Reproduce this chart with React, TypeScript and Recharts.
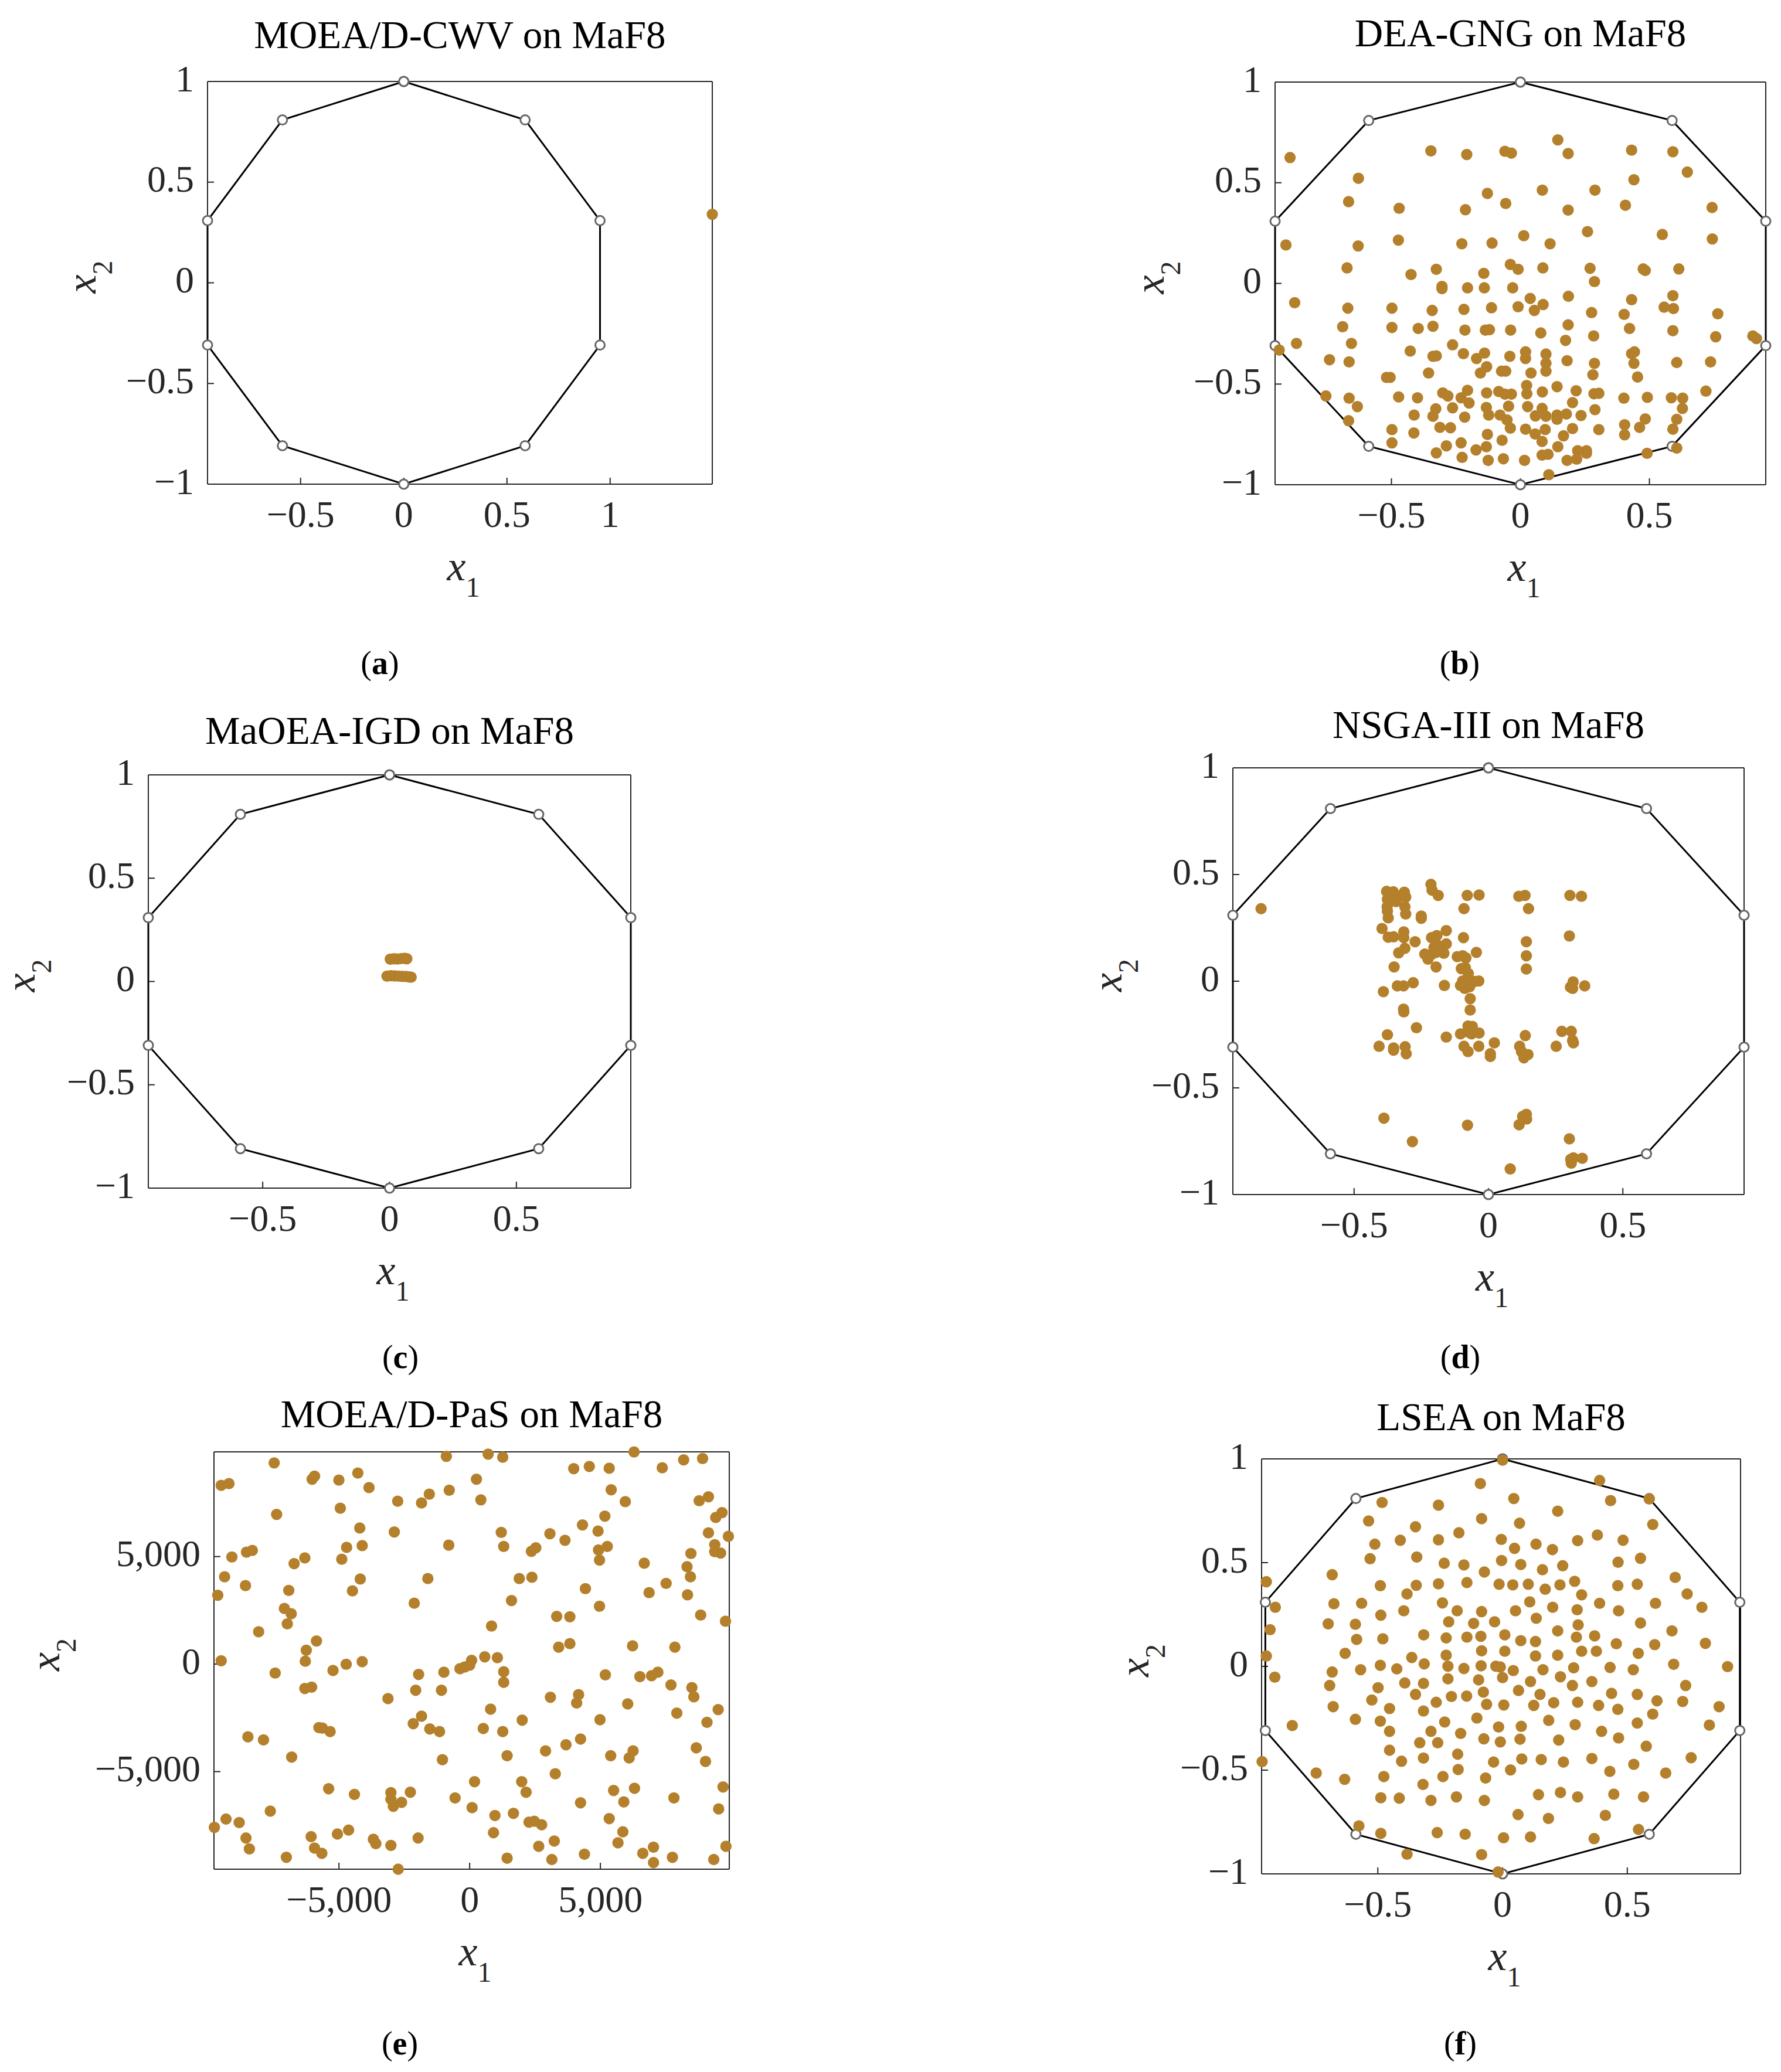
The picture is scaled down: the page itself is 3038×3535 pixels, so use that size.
import { ScatterChart, Scatter, XAxis, YAxis } from 'recharts'

// decagon outline, closed by repeating the first vertex
const POLYGON: number[][] = [
  [0, 1], [0.588, 0.809], [0.951, 0.309], [0.951, -0.309], [0.588, -0.809], [0, -1],
  [-0.588, -0.809], [-0.951, -0.309], [-0.951, 0.309], [-0.588, 0.809], [0, 1],
]

const CWV_POINTS: number[][] = [[1.495, 0.34]]

const GNG_POINTS: number[][] = [
  [-0.893, 0.625], [-0.347, 0.658], [-0.208, 0.64], [-0.06, 0.656], [-0.035, 0.647], [0.145, 0.713], [0.185, 0.645],
  [0.431, 0.662], [0.591, 0.654], [0.647, 0.553], [0.44, 0.515], [-0.628, 0.522], [-0.666, 0.406], [-0.47, 0.373],
  [-0.213, 0.366], [-0.128, 0.447], [-0.057, 0.397], [0.085, 0.463], [0.289, 0.463], [0.185, 0.364], [0.407, 0.388],
  [0.743, 0.377], [0.26, 0.257], [0.55, 0.243], [0.744, 0.221], [-0.909, 0.191], [-0.629, 0.186], [-0.473, 0.215],
  [-0.227, 0.197], [-0.11, 0.2], [0.013, 0.237], [0.115, 0.197], [-0.672, 0.077], [-0.424, 0.044], [-0.326, 0.07],
  [-0.142, 0.05], [-0.039, 0.094], [-0.009, 0.07], [0.087, 0.077], [0.27, 0.075], [0.287, 0.009], [0.476, 0.072],
  [0.484, 0.064], [0.614, 0.072], [-0.304, -0.015], [-0.304, -0.026], [-0.205, -0.022], [-0.14, -0.022], [-0.03, -0.022],
  [0.186, -0.064], [0.038, -0.075], [0.591, -0.061], [-0.875, -0.096], [0.431, -0.081], [-0.669, -0.123], [-0.498, -0.123],
  [-0.342, -0.134], [-0.219, -0.129], [-0.112, -0.121], [-0.009, -0.116], [0.088, -0.105], [0.054, -0.134], [0.276, -0.145],
  [0.402, -0.154], [0.557, -0.118], [0.593, -0.125], [0.765, -0.151], [-0.689, -0.215], [-0.498, -0.219], [-0.396, -0.224],
  [-0.339, -0.213], [-0.215, -0.232], [-0.136, -0.232], [-0.12, -0.23], [-0.038, -0.232], [0.079, -0.246], [0.185, -0.206],
  [0.284, -0.261], [0.423, -0.224], [0.591, -0.235], [0.757, -0.265], [0.901, -0.261], [0.915, -0.274], [-0.868, -0.298],
  [-0.655, -0.298], [-0.935, -0.331], [-0.263, -0.305], [0.175, -0.283], [-0.427, -0.336], [-0.339, -0.362], [-0.326, -0.36],
  [-0.221, -0.349], [-0.17, -0.373], [-0.139, -0.346], [-0.041, -0.362], [0.02, -0.34], [0.02, -0.373], [0.099, -0.351],
  [0.181, -0.384], [0.431, -0.349], [0.442, -0.34], [-0.74, -0.379], [-0.664, -0.39], [-0.131, -0.414], [-0.155, -0.445],
  [0.099, -0.397], [0.099, -0.436], [0.287, -0.397], [0.44, -0.397], [0.737, -0.39], [-0.356, -0.445], [-0.073, -0.436],
  [-0.057, -0.436], [0.041, -0.445], [0.281, -0.454], [0.454, -0.465], [0.606, -0.393], [-0.519, -0.467], [-0.505, -0.467],
  [0.024, -0.507], [0.142, -0.513], [0.719, -0.535], [-0.754, -0.559], [-0.472, -0.564], [-0.399, -0.568], [-0.301, -0.544],
  [-0.281, -0.559], [-0.23, -0.568], [-0.205, -0.531], [-0.131, -0.544], [-0.084, -0.537], [-0.06, -0.55], [-0.035, -0.55],
  [0.025, -0.548], [0.085, -0.539], [0.216, -0.533], [0.285, -0.548], [0.304, -0.546], [0.401, -0.57], [0.492, -0.566],
  [0.585, -0.568], [0.629, -0.57], [-0.664, -0.57], [-0.632, -0.612], [-0.328, -0.623], [-0.263, -0.618], [-0.199, -0.594],
  [-0.132, -0.616], [-0.046, -0.61], [0.028, -0.612], [0.084, -0.621], [0.202, -0.592], [0.289, -0.627], [0.628, -0.621],
  [-0.412, -0.654], [-0.339, -0.66], [-0.216, -0.664], [-0.123, -0.654], [-0.079, -0.654], [-0.052, -0.678], [0.058, -0.658],
  [0.099, -0.66], [0.142, -0.654], [0.142, -0.675], [0.178, -0.649], [0.235, -0.656], [0.484, -0.673], [0.606, -0.675],
  [-0.666, -0.682], [0.404, -0.702], [-0.498, -0.726], [-0.312, -0.715], [-0.271, -0.717], [-0.039, -0.719], [0.02, -0.724],
  [0.096, -0.726], [0.202, -0.721], [0.304, -0.726], [0.462, -0.715], [0.591, -0.724], [-0.413, -0.743], [-0.128, -0.75],
  [0.057, -0.748], [0.167, -0.757], [0.404, -0.752], [-0.498, -0.792], [-0.23, -0.792], [-0.071, -0.779], [0.084, -0.785],
  [-0.287, -0.807], [-0.132, -0.811], [0.145, -0.811], [0.606, -0.818], [-0.172, -0.827], [-0.326, -0.842], [-0.226, -0.864],
  [-0.125, -0.879], [-0.066, -0.871], [0.016, -0.879], [0.084, -0.853], [0.107, -0.849], [0.181, -0.879], [0.218, -0.873],
  [0.222, -0.831], [0.256, -0.831], [0.256, -0.844], [0.491, -0.844], [0.11, -0.95],
]

const IGD_POINTS: number[][] = [
  [0.003, 0.108], [0.018, 0.11], [0.032, 0.109], [0.047, 0.111], [0.06, 0.112], [0.068, 0.11],
  [-0.01, 0.026], [0.005, 0.028], [0.02, 0.027], [0.035, 0.026], [0.05, 0.025], [0.065, 0.024], [0.078, 0.022], [0.085, 0.021],
]

const NSGA_POINTS: number[][] = [
  [-0.846, 0.34], [-0.379, 0.421], [-0.354, 0.419], [-0.313, 0.417], [-0.338, 0.394], [-0.308, 0.394], [-0.376, 0.384],
  [-0.377, 0.349], [-0.344, 0.373], [-0.311, 0.349], [-0.376, 0.328], [-0.308, 0.315], [-0.373, 0.297], [-0.25, 0.305],
  [-0.25, 0.295], [-0.214, 0.454], [-0.21, 0.427], [-0.187, 0.402], [-0.079, 0.402], [-0.035, 0.404], [0.113, 0.398],
  [0.136, 0.402], [0.303, 0.402], [0.346, 0.398], [-0.091, 0.34], [0.149, 0.34], [-0.396, 0.247], [-0.373, 0.206],
  [-0.353, 0.208], [-0.315, 0.231], [-0.315, 0.204], [-0.273, 0.185], [-0.157, 0.237], [-0.212, 0.204], [-0.192, 0.214],
  [-0.093, 0.204], [0.301, 0.212], [0.141, 0.185], [-0.157, 0.175], [-0.311, 0.154], [-0.334, 0.133], [-0.045, 0.135],
  [-0.237, 0.127], [-0.225, 0.103], [-0.203, 0.157], [-0.195, 0.135], [-0.187, 0.167], [-0.166, 0.131], [-0.212, 0.125],
  [-0.179, 0.146], [-0.116, 0.115], [-0.096, 0.119], [-0.084, 0.109], [0.141, 0.119], [-0.195, 0.067], [-0.351, 0.067],
  [-0.101, 0.059], [-0.086, 0.063], [0.141, 0.057], [-0.075, 0.036], [-0.036, 0.001], [-0.05, -0.001], [0.315, -0.003],
  [-0.339, -0.022], [-0.316, -0.022], [-0.28, -0.007], [-0.164, -0.02], [-0.104, -0.02], [-0.088, -0.009], [-0.071, -0.003],
  [-0.088, -0.034], [-0.07, -0.026], [-0.096, 0.001], [0.305, -0.028], [0.313, -0.034], [0.358, -0.022], [-0.391, -0.049],
  [-0.068, -0.082], [-0.316, -0.131], [-0.315, -0.144], [-0.068, -0.135], [-0.268, -0.218], [-0.076, -0.21], [-0.06, -0.212],
  [-0.104, -0.247], [-0.079, -0.237], [-0.063, -0.247], [-0.035, -0.243], [-0.376, -0.251], [-0.157, -0.262], [0.137, -0.255],
  [0.273, -0.235], [0.308, -0.235], [0.313, -0.278], [0.316, -0.289], [0.022, -0.289], [-0.407, -0.305], [-0.353, -0.313],
  [-0.353, -0.323], [-0.31, -0.307], [-0.306, -0.34], [-0.091, -0.305], [-0.076, -0.33], [-0.036, -0.305], [0.007, -0.34],
  [0.007, -0.353], [0.116, -0.305], [0.123, -0.33], [0.132, -0.359], [0.147, -0.344], [0.252, -0.305], [-0.389, -0.642],
  [-0.078, -0.675], [0.141, -0.624], [0.127, -0.634], [0.142, -0.646], [0.114, -0.673], [-0.283, -0.752], [0.301, -0.739],
  [0.306, -0.835], [0.316, -0.828], [0.349, -0.83], [0.308, -0.853], [0.081, -0.88],
]

const PAS_POINTS: number[][] = [
  [-7477, 9356], [-9505, 8313], [-9207, 8395], [-6026, 8599], [-5933, 8742], [-5003, 8558], [-4278, 8885], [-3850, 8211],
  [-2753, 7577], [-1841, 7495], [-1544, 7904], [-893, 9663], [-781, 8088], [260, 8599], [428, 7638], [707, 9765], [1265, 9622],
  [3980, 9090], [4576, 9192], [5338, 9110], [6287, 9867], [7366, 9131], [8184, 9499], [8909, 9560], [5413, 8108], [5952, 7556],
  [8779, 7597], [9133, 7781], [9653, 7045], [9412, 6820], [5171, 6881], [-7384, 6963], [-4948, 7250], [-4204, 6329], [4315, 6472],
  [1209, 6125], [3069, 6063], [4910, 6186], [9133, 6104], [9895, 5941], [-2883, 6145], [-4706, 5429], [-4111, 5511], [-800, 5532],
  [1302, 5470], [3646, 5757], [2530, 5409], [2362, 5245], [4929, 5307], [5264, 5470], [9374, 5552], [9374, 5225], [9598, 5164],
  [8463, 5143], [-9095, 4980], [-8537, 5205], [-8314, 5286], [-6305, 4939], [-6715, 4673], [-4892, 4877], [4966, 4836], [6677, 4693],
  [8314, 4530], [-9374, 4059], [1897, 3977], [2381, 4039], [-1600, 3977], [-4185, 3957], [8444, 4059], [-8575, 3650], [-6919, 3425],
  [-4483, 3405], [4427, 3507], [7514, 3752], [6863, 3323], [8333, 3221], [-9635, 3200], [1600, 2955], [-2120, 2832], [4966, 2689],
  [-7087, 2587], [-6826, 2341], [3329, 2219], [3832, 2198], [8835, 2280], [9784, 1994], [-6975, 1871], [837, 1769], [-8072, 1503],
  [-5859, 1074], [3832, 951], [3404, 787], [6231, 849], [7849, 787], [-6250, 644], [577, 337], [1060, 297], [74, 174], [-9505, 153],
  [-6287, 133], [-4111, 112], [-4724, -10], [0, -51], [-186, -133], [-372, -215], [-5227, -297], [-986, -378], [1302, -358],
  [-7440, -419], [-1953, -481], [5189, -501], [7198, -378], [6510, -583], [6956, -542], [1302, -849], [-6305, -1135], [-6045, -1074],
  [7700, -971], [8500, -1094], [-2065, -1217], [-1079, -1217], [4166, -1421], [3088, -1544], [-3125, -1605], [8575, -1523], [4092, -1810],
  [6045, -1851], [800, -2096], [9505, -2116], [7924, -2280], [-1841, -2423], [2009, -2607], [4985, -2587], [-2158, -2771], [9077, -2710],
  [-5766, -2955], [-5636, -2975], [-5338, -3139], [-1525, -3016], [-1153, -3139], [521, -2996], [1265, -3139], [-8482, -3384], [-7886, -3527],
  [4241, -3487], [3683, -3752], [2902, -4039], [8668, -3896], [6250, -4039], [6101, -4366], [5394, -4264], [1432, -4264], [-1042, -4448],
  [-6808, -4325], [9021, -4530], [3274, -5102], [186, -5470], [1990, -5470], [-5394, -5797], [6305, -5777], [9691, -5716], [5506, -5879],
  [-2269, -5961], [-3013, -5981], [2158, -5961], [-4408, -6063], [-558, -6227], [7812, -6227], [-3013, -6288], [-2604, -6431], [4241, -6452],
  [5896, -6411], [-2920, -6615], [93, -6677], [9523, -6738], [-7626, -6840], [1674, -6942], [967, -7045], [5338, -7188], [-9319, -7209],
  [-8816, -7372], [2269, -7352], [2474, -7311], [2753, -7474], [-9765, -7597], [-4631, -7720], [-5059, -7904], [911, -7843], [5859, -7802],
  [-6064, -8027], [-8556, -8088], [-1972, -8088], [-3683, -8149], [-3590, -8353], [3236, -8231], [5673, -8312], [-3013, -8435], [-5933, -8558],
  [-8426, -8599], [2641, -8476], [7031, -8517], [9802, -8476], [-5654, -8803], [6622, -8803], [4390, -8844], [-7012, -8987], [7756, -8987],
  [1432, -9028], [3143, -9090], [9337, -9090], [7031, -9233], [-2734, -9540],
]

const LSEA_POINTS: number[][] = [
  [0, 0.994], [0.389, 0.896], [-0.089, 0.881], [0.045, 0.809], [0.433, 0.799], [0.588, 0.807], [-0.483, 0.79], [-0.257, 0.777], [0.221, 0.748],
  [-0.537, 0.701], [-0.084, 0.712], [0.068, 0.69], [0.602, 0.684], [-0.349, 0.673], [-0.175, 0.644], [0.38, 0.633], [-0.41, 0.608], [-0.257, 0.61],
  [-0.005, 0.612], [0.301, 0.606], [0.483, 0.608], [-0.512, 0.589], [0.134, 0.589], [0.048, 0.569], [0.2, 0.563], [-0.344, 0.527], [-0.531, 0.519],
  [0.553, 0.521], [-0.004, 0.51], [0.463, 0.502], [-0.234, 0.497], [-0.155, 0.489], [0.073, 0.491], [0.241, 0.485], [0.16, 0.466], [-0.073, 0.455],
  [-0.683, 0.442], [0.692, 0.429], [-0.947, 0.408], [0.289, 0.41], [-0.143, 0.404], [-0.014, 0.396], [0.041, 0.393], [0.103, 0.396], [-0.257, 0.398],
  [-0.346, 0.391], [-0.49, 0.389], [0.23, 0.393], [0.462, 0.389], [0.54, 0.396], [0.171, 0.372], [-0.383, 0.349], [0.74, 0.349], [0.317, 0.345],
  [0.109, 0.311], [-0.241, 0.306], [-0.676, 0.302], [-0.565, 0.304], [0.389, 0.304], [0.613, 0.304], [-0.911, 0.285], [0.201, 0.285], [0.799, 0.285],
  [0.052, 0.268], [-0.396, 0.268], [-0.182, 0.268], [-0.084, 0.264], [0.299, 0.273], [0.465, 0.268], [-0.488, 0.247], [0.135, 0.232], [-0.216, 0.215],
  [-0.032, 0.215], [-0.116, 0.207], [-0.699, 0.205], [-0.59, 0.203], [0.553, 0.209], [0.303, 0.2], [-0.932, 0.177], [0.679, 0.171], [0.221, 0.171],
  [0.009, 0.152], [-0.316, 0.152], [-0.087, 0.145], [-0.143, 0.141], [-0.226, 0.137], [-0.585, 0.13], [-0.48, 0.133], [0.296, 0.141], [0.073, 0.124],
  [0.132, 0.12], [0.369, 0.147], [0.456, 0.109], [0.61, 0.105], [0.813, 0.111], [-0.084, 0.075], [0.009, 0.073], [0.317, 0.073], [0.376, 0.073],
  [-0.631, 0.063], [0.544, 0.063], [-0.947, 0.05], [-0.226, 0.054], [0.132, 0.05], [0.221, 0.054], [-0.364, 0.043], [-0.314, 0.012], [-0.49, 0.005],
  [-0.219, 0.001], [-0.086, 0.003], [-0.027, 0.001], [-0.009, -0.003], [0.686, 0.01], [0.902, -0.001], [0.431, -0.005], [0.285, -0.007], [-0.424, -0.012],
  [-0.155, -0.01], [-0.569, -0.016], [0.524, -0.016], [0.162, -0.016], [0.043, -0.02], [-0.683, -0.027], [-0.913, -0.052], [0, -0.054], [0.232, -0.05],
  [-0.219, -0.06], [-0.096, -0.065], [0.112, -0.073], [-0.392, -0.08], [-0.317, -0.082], [0.358, -0.073], [-0.693, -0.092], [0.28, -0.092], [0.734, -0.092],
  [-0.499, -0.103], [0.064, -0.116], [-0.077, -0.124], [-0.349, -0.135], [0.15, -0.135], [0.437, -0.13], [0.54, -0.135], [-0.144, -0.143], [-0.205, -0.145],
  [-0.524, -0.162], [0.619, -0.166], [0.722, -0.169], [-0.266, -0.173], [0.301, -0.173], [0.205, -0.175], [-0.064, -0.183], [0.005, -0.186], [0.125, -0.188],
  [0.385, -0.188], [-0.679, -0.194], [0.868, -0.194], [-0.453, -0.203], [0.462, -0.207], [-0.317, -0.215], [0.602, -0.23], [-0.103, -0.249], [-0.59, -0.255],
  [0.185, -0.26], [-0.49, -0.264], [-0.232, -0.268], [0.54, -0.273], [-0.843, -0.285], [0.291, -0.281], [-0.016, -0.292], [0.075, -0.289], [0.829, -0.283],
  [-0.287, -0.313], [-0.453, -0.313], [0.397, -0.313], [-0.168, -0.323], [0.465, -0.345], [-0.075, -0.349], [0.07, -0.351], [-0.332, -0.368], [-0.26, -0.368],
  [-0.009, -0.364], [0.225, -0.355], [0.576, -0.385], [-0.453, -0.404], [-0.18, -0.423], [-0.317, -0.442], [0.077, -0.446], [0.155, -0.449], [0.358, -0.444],
  [0.756, -0.44], [-0.405, -0.457], [-0.036, -0.461], [-0.964, -0.459], [0.244, -0.461], [0.526, -0.472], [-0.178, -0.497], [0.032, -0.499], [0.43, -0.506],
  [-0.747, -0.514], [0.654, -0.514], [-0.239, -0.531], [-0.476, -0.531], [-0.068, -0.538], [-0.633, -0.544], [-0.319, -0.569], [0.144, -0.618], [0.232, -0.608],
  [0.446, -0.616], [-0.185, -0.629], [0.301, -0.629], [0.565, -0.629], [-0.488, -0.633], [-0.414, -0.635], [-0.287, -0.646], [-0.073, -0.646], [0.062, -0.714],
  [0.412, -0.718], [0.184, -0.733], [-0.576, -0.769], [0.545, -0.786], [-0.262, -0.801], [-0.488, -0.805], [-0.15, -0.809], [0.004, -0.826], [0.112, -0.822],
  [0.367, -0.83], [-0.084, -0.907], [-0.383, -0.905], [-0.018, -0.991],
]

const SERIF = '"Liberation Serif", serif'
const INK = '#262626'
const DOT = '#b5802b'

const UNIT_TICKS = [-1, -0.5, 0, 0.5, 1]
const HALF_TICKS = [-0.5, 0, 0.5]
const WIDE_TICKS = [-5000, 0, 5000]

// page room around each frame; each axis takes 1px of it
const PAD = { left: 340, top: 130, right: 60, bottom: 380 }
const MARGIN = { left: PAD.left - 1, top: PAD.top - 1, right: PAD.right - 1, bottom: PAD.bottom - 1 }

function fmt(v: number) {
  const s = Math.abs(v).toLocaleString('en-US')
  return v < 0 ? '\u2212' + s : s
}

const toRows = (pts: number[][]) => pts.map(([x, y]) => ({ x, y }))

const Dot = (p: any) => <circle cx={p.cx} cy={p.cy} r={9.7} fill={DOT} />
const Vertex = (p: any) => <circle cx={p.cx} cy={p.cy} r={8} fill="#fff" stroke="#666" strokeWidth={3} />

type PanelProps = {
  title: string
  tag: string
  frame: number[] // left, top, right, bottom on the page
  xDomain: number[]
  yDomain: number[]
  xTicks: number[]
  yTicks: number[]
  points: number[][]
  polygon?: boolean
  titleGap: number
  yLabelGap: number
  caption: number[]
}

function Panel({ title, tag, frame, xDomain, yDomain, xTicks, yTicks, points, polygon = true, titleGap, yLabelGap, caption }: PanelProps) {
  const [l, t, r, b] = frame
  const plotW = r - l
  const plotH = b - t
  const axisLine = { stroke: INK, strokeWidth: 2 }
  const tick = { fontFamily: SERIF, fontSize: 64, fill: INK }
  const cx = PAD.left + plotW / 2
  const cy = PAD.top + plotH / 2
  const ylx = PAD.left - yLabelGap + 18
  return (
    <div style={{ position: 'absolute', left: l - PAD.left, top: t - PAD.top }}>
      <ScatterChart width={plotW + PAD.left + PAD.right} height={plotH + PAD.top + PAD.bottom} margin={MARGIN}>
        <XAxis type="number" dataKey="x" height={1} domain={xDomain} ticks={xTicks} interval={0} tickSize={-11} tickMargin={39}
          tickFormatter={fmt} tick={tick} tickLine={axisLine} axisLine={axisLine} />
        <XAxis xAxisId="top" orientation="top" type="number" dataKey="x" height={1} domain={xDomain} ticks={xTicks} interval={0} tickSize={-11}
          tick={false} tickLine={axisLine} axisLine={axisLine} />
        <YAxis type="number" dataKey="y" width={1} domain={yDomain} ticks={yTicks} interval={0} tickSize={-11} tickMargin={34}
          tickFormatter={fmt} tick={{ ...tick, dy: -6 }} tickLine={axisLine} axisLine={axisLine} />
        <YAxis yAxisId="right" orientation="right" type="number" dataKey="y" width={1} domain={yDomain} ticks={yTicks} interval={0} tickSize={-11}
          tick={false} tickLine={axisLine} axisLine={axisLine} />
        {polygon && (
          <Scatter data={toRows(POLYGON)} line={{ stroke: '#000', strokeWidth: 3 }} lineType="joint" shape={Vertex} isAnimationActive={false} />
        )}
        <Scatter data={toRows(points)} shape={Dot} isAnimationActive={false} />
        <text x={cx} y={PAD.top - titleGap} textAnchor="middle" fontFamily={SERIF} fontSize={67} fill="#000">{title}</text>
        <text x={cx - 22} y={PAD.top + plotH + 164} fontFamily={SERIF} fontSize={72} fill={INK}>
          <tspan fontStyle="italic">x</tspan>
          <tspan fontSize={48} dy={28}>1</tspan>
        </text>
        <text transform={`translate(${ylx} ${cy + 18}) rotate(-90)`} fontFamily={SERIF} fontSize={72} fill={INK}>
          <tspan fontStyle="italic">x</tspan>
          <tspan fontSize={48} dy={28}>2</tspan>
        </text>
        <text x={caption[0] - l + PAD.left} y={caption[1] - t + PAD.top + 16} textAnchor="middle" fontFamily={SERIF} fontSize={56} fill="#000">
          (<tspan fontWeight="bold">{tag}</tspan>)
        </text>
      </ScatterChart>
    </div>
  )
}

export default function App() {
  return (
    <div style={{ position: 'absolute', left: 0, top: 0, width: 3038, height: 3535, background: '#fff', overflow: 'hidden' }}>
      <Panel title="MOEA/D-CWV on MaF8" tag="a" frame={[354, 139, 1215, 826]} xDomain={[-0.951, 1.495]} yDomain={[-1, 1]}
        xTicks={[-0.5, 0, 0.5, 1]} yTicks={UNIT_TICKS} points={CWV_POINTS} titleGap={57} yLabelGap={209} caption={[648, 1134]} />
      <Panel title="DEA-GNG on MaF8" tag="b" frame={[2175, 140, 3012, 827]} xDomain={[-0.951, 0.951]} yDomain={[-1, 1]}
        xTicks={HALF_TICKS} yTicks={UNIT_TICKS} points={GNG_POINTS} titleGap={61} yLabelGap={208} caption={[2490, 1134]} />
      <Panel title="MaOEA-IGD on MaF8" tag="c" frame={[253, 1322, 1076, 2027]} xDomain={[-0.951, 0.951]} yDomain={[-1, 1]}
        xTicks={HALF_TICKS} yTicks={UNIT_TICKS} points={IGD_POINTS} titleGap={53} yLabelGap={212} caption={[683, 2318]} />
      <Panel title="NSGA-III on MaF8" tag="d" frame={[2103, 1310, 2975, 2038]} xDomain={[-0.951, 0.951]} yDomain={[-1, 1]}
        xTicks={HALF_TICKS} yTicks={UNIT_TICKS} points={NSGA_POINTS} titleGap={51} yLabelGap={208} caption={[2491, 2318]} />
      <Panel title="MOEA/D-PaS on MaF8" tag="e" frame={[365, 2477, 1244, 3189]} xDomain={[-9780, 9930]} yDomain={[-9540, 9870]}
        xTicks={WIDE_TICKS} yTicks={WIDE_TICKS} points={PAS_POINTS} polygon={false} titleGap={42} yLabelGap={282} caption={[682, 3489]} />
      <Panel title="LSEA on MaF8" tag="f" frame={[2152, 2489, 2969, 3197]} xDomain={[-0.966, 0.954]} yDomain={[-1, 1]}
        xTicks={HALF_TICKS} yTicks={UNIT_TICKS} points={LSEA_POINTS} titleGap={49} yLabelGap={211} caption={[2491, 3489]} />
    </div>
  )
}
